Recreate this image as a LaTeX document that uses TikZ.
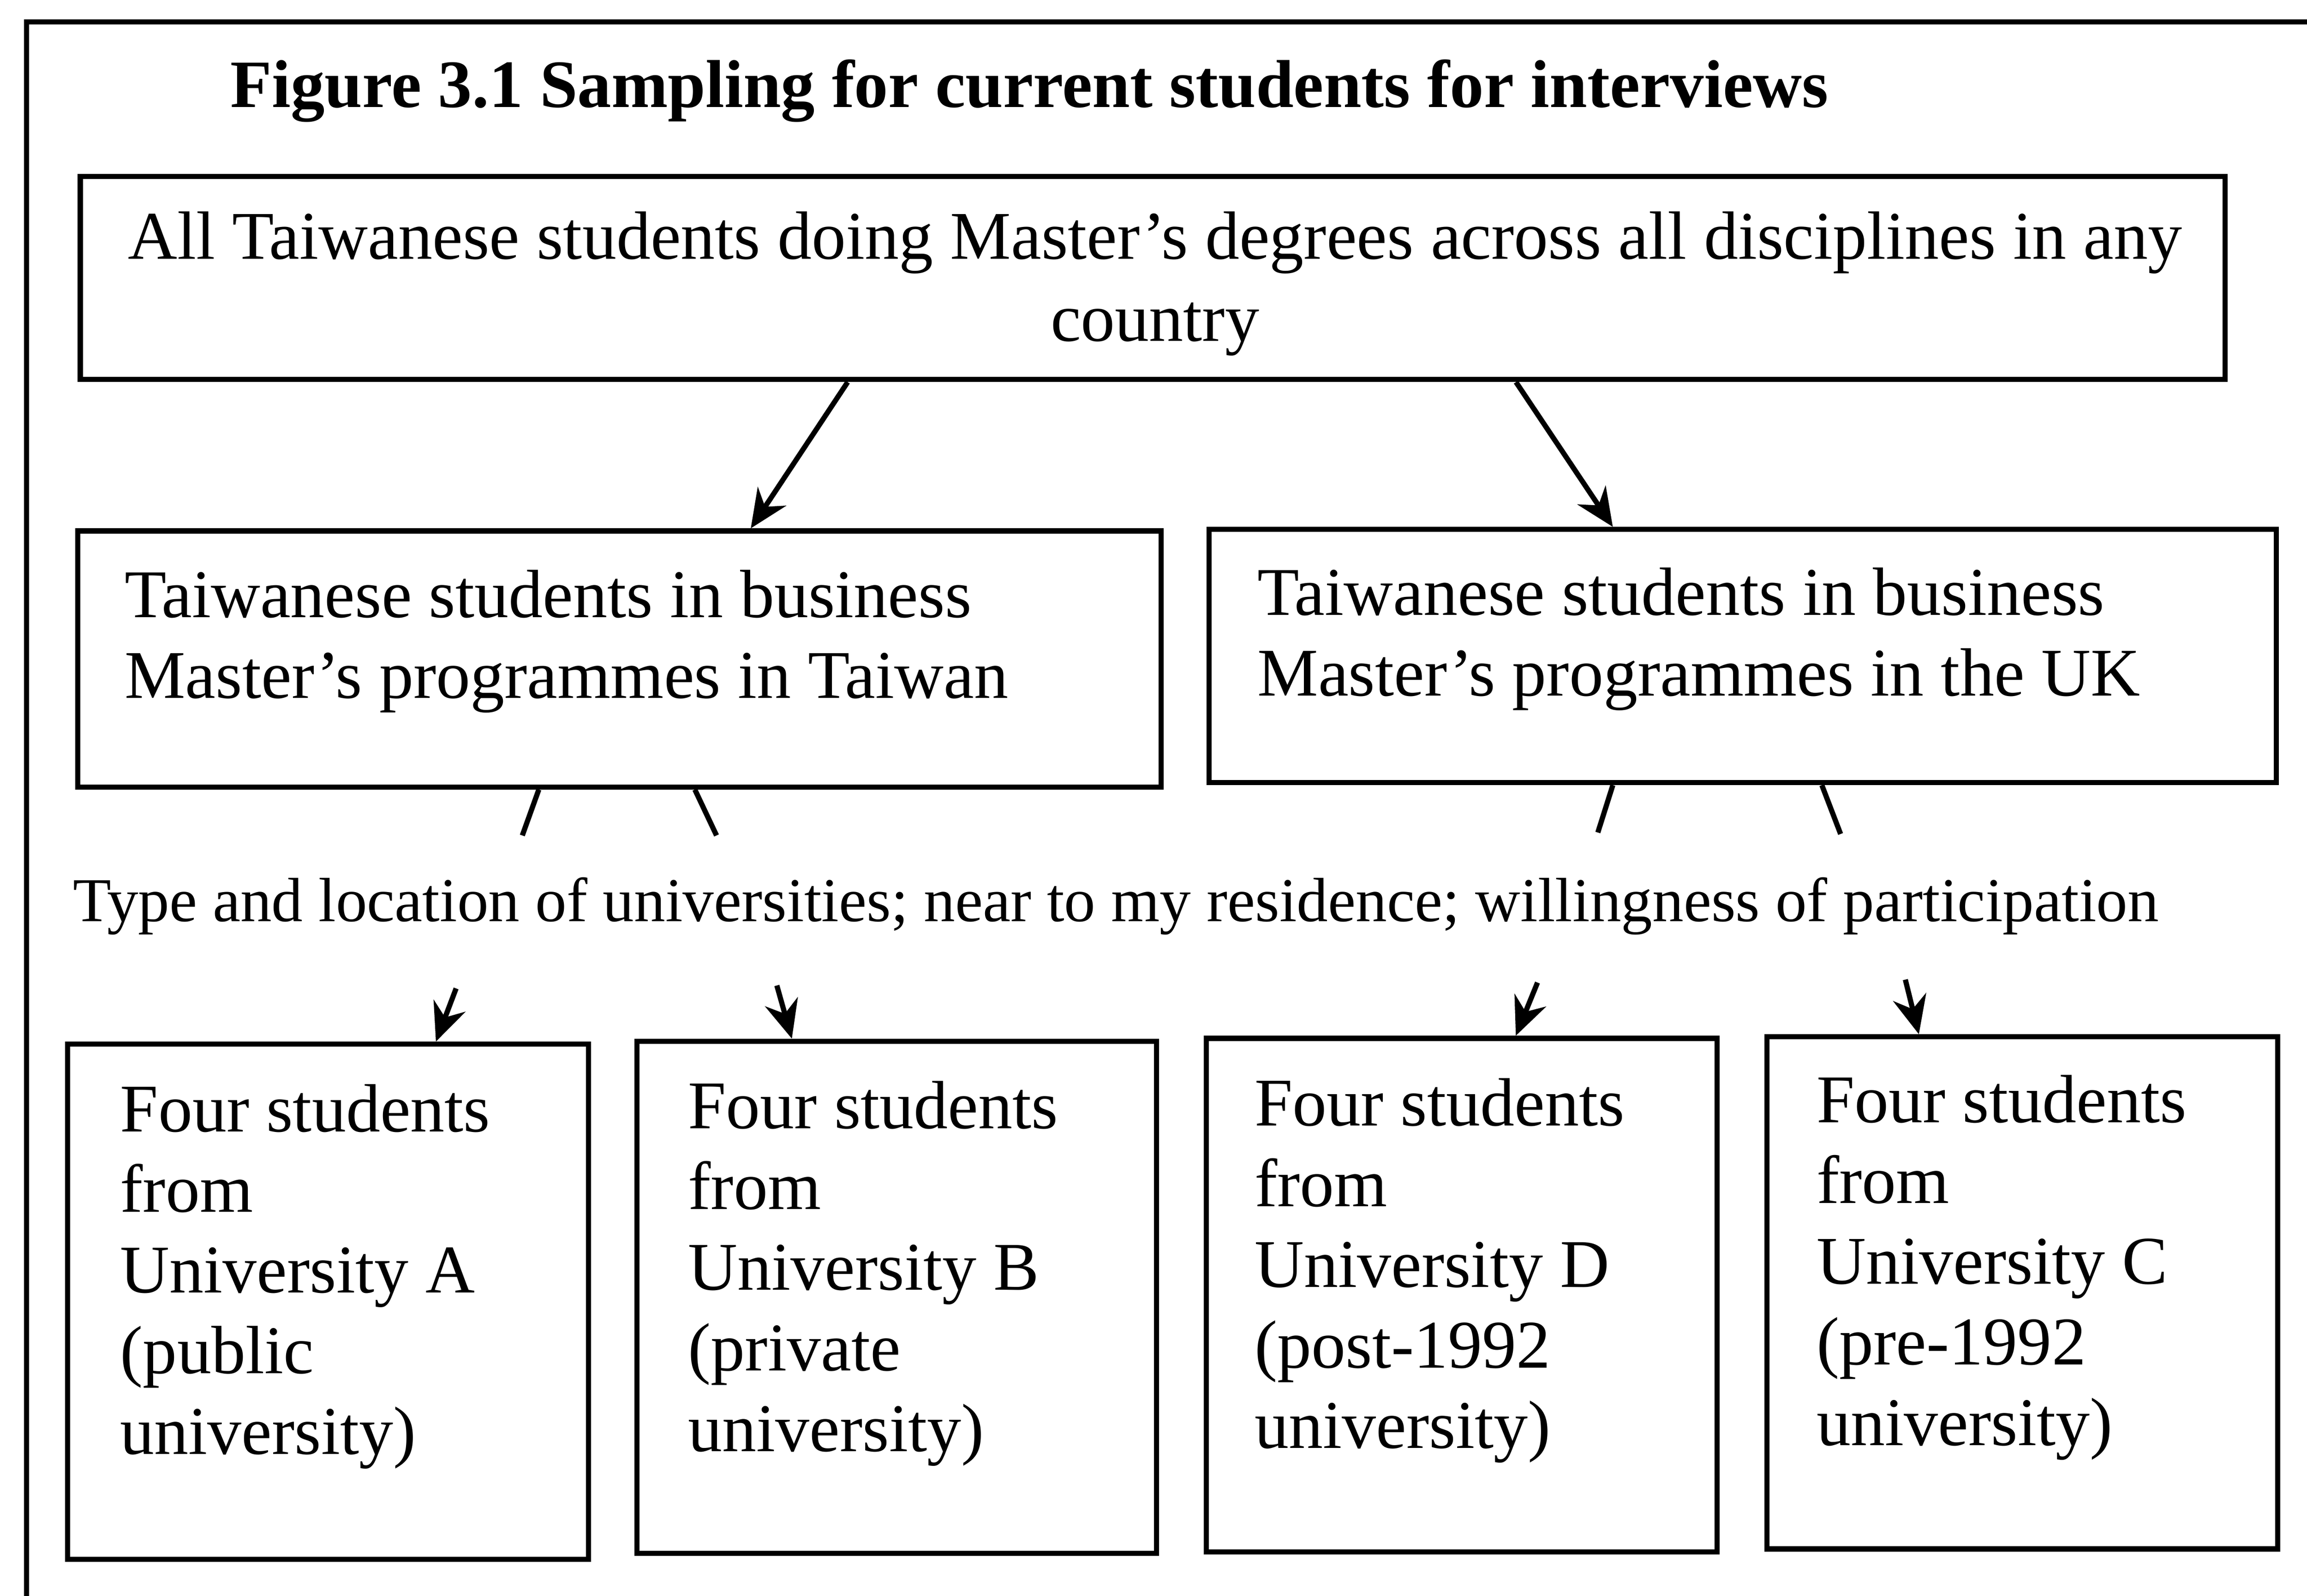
\documentclass[tikz,border=0pt]{standalone}
\usepackage{fontspec}
\setmainfont{Liberation Serif}
\usetikzlibrary{arrows.meta}
\newcommand{\boxfont}{\fontsize{13.2}{15.6}\selectfont}
\begin{document}
\begin{tikzpicture}[x=0.01cm, y=-0.01cm, line width=1pt,
        box/.style={draw, inner sep=0pt},
        txt/.style={anchor=base west, align=left, inner sep=0pt, font=\boxfont},
        arr/.style={-{Stealth[length=2.6mm, width=2.3mm]}}]
    \useasboundingbox (0,0) rectangle (1568,1085);
    \draw (18,1085) -- (18,15) -- (1568,15);
    \node[anchor=base west, inner sep=0pt, font=\fontsize{13.1}{15.6}\selectfont\bfseries] (title) at (155,72.8) {Figure 3.1 Sampling for current students for interviews};

    \node[box, minimum width=14.57cm, minimum height=1.38cm] (all) at (783.5,189) {};
    \node[anchor=base, align=center, inner sep=0pt, font=\fontsize{13.2}{15.9}\selectfont] (alltext) at (785,231.9) {All Taiwanese students doing Master’s degrees across all disciplines in any\\country};

    \node[box, minimum width=7.36cm, minimum height=1.74cm] (tw) at (421,448) {};
    \node[txt] (twtext) at (83,474.6) {Taiwanese students in business\\Master’s programmes in Taiwan};
    \node[box, minimum width=7.25cm, minimum height=1.72cm] (uk) at (1184.5,446) {};
    \node[txt] (uktext) at (853,473) {Taiwanese students in business\\Master’s programmes in the UK};

    \node[anchor=base west, inner sep=0pt, font=\fontsize{12.07}{14}\selectfont] (crit) at (48,626.5) {Type and location of universities; near to my residence; willingness of participation};

    \node[box, minimum width=3.54cm, minimum height=3.5cm] (uniA) at (223,885) {};
    \node[txt] (uniAtext) at (80,988.7) {Four students\\from\\University A\\(public\\university)};
    \node[box, minimum width=3.53cm, minimum height=3.48cm] (uniB) at (609.5,882) {};
    \node[txt] (uniBtext) at (466,986.7) {Four students\\from\\University B\\(private\\university)};
    \node[box, minimum width=3.47cm, minimum height=3.49cm] (uniD) at (993.5,880.5) {};
    \node[txt] (uniDtext) at (851,984.7) {Four students\\from\\University D\\(post-1992\\university)};
    \node[box, minimum width=3.47cm, minimum height=3.48cm] (uniC) at (1374.5,879) {};
    \node[txt] (uniCtext) at (1233,982.7) {Four students\\from\\University C\\(pre-1992\\university)};

    % top level split
    \draw[arr] ([xshift=5.23cm]all.south west) -- ([xshift=4.59cm]tw.north west);
    \draw[arr] ([xshift=9.77cm]all.south west) -- ([xshift=2.76cm]uk.north west);

    % lines down to the criteria
    \coordinate (tw1) at (355,568);
    \coordinate (tw2) at (487,568);
    \coordinate (uk1) at (1086,566);
    \coordinate (uk2) at (1251,567);
    \draw ([xshift=3.15cm]tw.south west) -- (tw1);
    \draw ([xshift=4.21cm]tw.south west) -- (tw2);
    \draw ([xshift=2.76cm]uk.south west) -- (uk1);
    \draw ([xshift=4.18cm]uk.south west) -- (uk2);

    % arrows from the criteria to the universities
    \coordinate (a1) at (310,672);
    \coordinate (a2) at (528,670);
    \coordinate (a3) at (1045,668);
    \coordinate (a4) at (1295,666);
    \draw[arr] (a1) -- ([xshift=2.52cm]uniA.north west);
    \draw[arr] (a2) -- ([xshift=1.07cm]uniB.north west);
    \draw[arr] (a3) -- ([xshift=2.12cm]uniD.north west);
    \draw[arr] (a4) -- ([xshift=1.05cm]uniC.north west);
\end{tikzpicture}
\end{document}
